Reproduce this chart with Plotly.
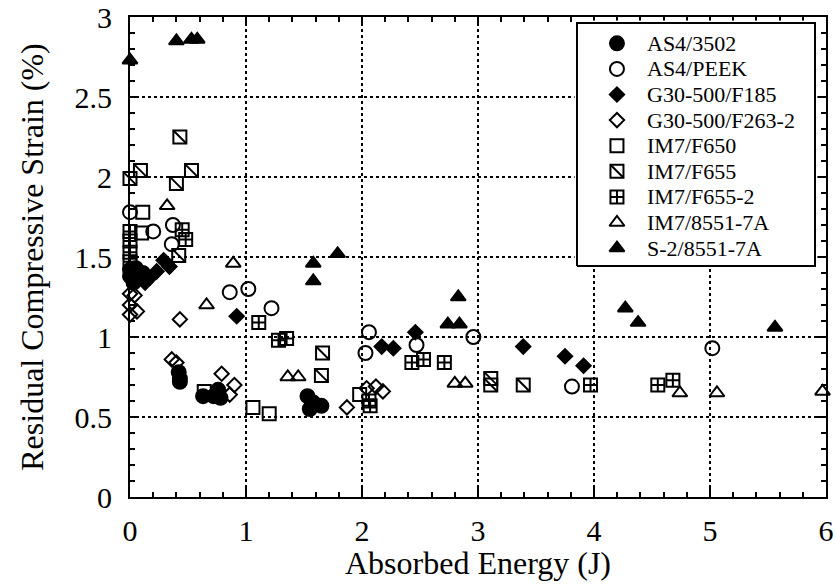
import plotly.graph_objects as go

# ---- data: absorbed energy (J) vs residual compressive strain (%) ----
as4_3502_x = [0, 0, 0.05, 0.08, 0.03, 0.11, 0.42, 0.43, 0.43, 0.63, 0.72, 0.78, 0.76, 1.53, 1.55, 1.65, 1.58]
as4_3502_y = [1.38, 1.42, 1.43, 1.37, 1.34, 1.40, 0.78, 0.74, 0.72, 0.63, 0.63, 0.62, 0.67, 0.63, 0.55, 0.57, 0.59]

as4_peek_x = [0, 0.20, 0.37, 0.36, 0.86, 1.02, 1.22, 2.06, 2.03, 2.47, 2.96, 3.81, 5.02]
as4_peek_y = [1.78, 1.66, 1.70, 1.58, 1.28, 1.30, 1.18, 1.03, 0.90, 0.95, 1.00, 0.69, 0.93]

g30_f185_x = [0.13, 0.17, 0.23, 0.29, 0.34, 0.92, 2.17, 2.27, 2.46, 3.39, 3.75, 3.91]
g30_f185_y = [1.34, 1.37, 1.41, 1.48, 1.44, 1.13, 0.94, 0.93, 1.03, 0.94, 0.88, 0.82]

g30_f263_x = [0, 0.04, 0, 0, 0.06, 0.43, 0.36, 0.40, 0.79, 0.90, 0.86, 1.87, 2.04, 2.12, 2.18]
g30_f263_y = [1.27, 1.26, 1.20, 1.14, 1.16, 1.11, 0.86, 0.84, 0.77, 0.70, 0.64, 0.56, 0.68, 0.69, 0.66]

im7_f650_x = [0.11, 0.10, 0.64, 1.06, 1.20, 1.98]
im7_f650_y = [1.78, 1.65, 0.66, 0.56, 0.52, 0.64]

im7_f655_x = [0, 0.09, 0.43, 0.40, 0.53, 0.42, 1.66, 1.65, 3.11, 3.11, 3.39]
im7_f655_y = [1.99, 2.04, 2.25, 1.96, 2.04, 1.51, 0.90, 0.76, 0.74, 0.70, 0.70]

im7_f655_2_x = [0, 0, 0, 0, 0.45, 0.48, 1.11, 1.28, 1.35, 2.06, 2.07, 2.43, 2.53, 2.71, 3.97, 4.55, 4.68]
im7_f655_2_y = [1.66, 1.60, 1.53, 1.47, 1.67, 1.61, 1.09, 0.98, 0.99, 0.60, 0.57, 0.84, 0.86, 0.84, 0.70, 0.70, 0.73]

im7_8551_x = [0.32, 0.89, 0.66, 1.36, 1.45, 2.80, 2.89, 4.74, 5.06, 5.97]
im7_8551_y = [1.82, 1.46, 1.20, 0.75, 0.75, 0.71, 0.71, 0.65, 0.65, 0.66]

s2_8551_x = [0, 0.40, 0.53, 0.58, 1.58, 1.58, 1.79, 2.83, 2.74, 2.84, 4.27, 4.38, 5.56]
s2_8551_y = [2.73, 2.85, 2.86, 2.86, 1.46, 1.35, 1.52, 1.25, 1.08, 1.08, 1.18, 1.09, 1.06]

# name, x, y, list of (symbol, size) layers drawn on top of each other
series = [
    ("AS4/3502", as4_3502_x, as4_3502_y, [("circle", 14)]),
    ("AS4/PEEK", as4_peek_x, as4_peek_y, [("circle-open", 14)]),
    ("G30-500/F185", g30_f185_x, g30_f185_y, [("diamond", 11)]),
    ("G30-500/F263-2", g30_f263_x, g30_f263_y, [("diamond-open", 11)]),
    ("IM7/F650", im7_f650_x, im7_f650_y, [("square-open", 13)]),
    ("IM7/F655", im7_f655_x, im7_f655_y, [("square-open", 13), ("line-nw", 13)]),
    ("IM7/F655-2", im7_f655_2_x, im7_f655_2_y, [("square-cross-open", 13)]),
    ("IM7/8551-7A", im7_8551_x, im7_8551_y, [("triangle-up-open", 13)]),
    ("S-2/8551-7A", s2_8551_x, s2_8551_y, [("triangle-up", 13)]),
]

FONT = "Liberation Serif"
fig = go.Figure()

for name, xs, ys, layers in series:
    for sym, size in layers:
        fig.add_trace(go.Scatter(
            x=xs, y=ys, mode="markers", name=name, showlegend=False,
            cliponaxis=False,
            marker=dict(symbol=sym, size=size, color="black",
                        line=dict(color="black", width=2)),
        ))

# ---- hand-built legend box in its own overlay subplot ----
pad = 0.01
bx0, bx1 = 0.6422, 0.9842
by0, by1 = 0.481, 0.9875
dx = (bx1 - bx0) * pad
dy = (by1 - by0) * pad

fig.add_trace(go.Scatter(
    x=[0, 1, 1, 0, 0], y=[0, 0, 1, 1, 0], mode="lines", fill="toself",
    fillcolor="white", line=dict(color="black", width=2),
    xaxis="x2", yaxis="y2", showlegend=False, hoverinfo="skip",
))

row_top = 0.9165
row_step = 0.1053
key_x = 0.168
text_x = 0.285
for i, (name, xs, ys, layers) in enumerate(series):
    ry = row_top - i * row_step
    for sym, size in layers:
        fig.add_trace(go.Scatter(
            x=[key_x], y=[ry], mode="markers", xaxis="x2", yaxis="y2",
            showlegend=False, hoverinfo="skip",
            marker=dict(symbol=sym, size=size, color="black",
                        line=dict(color="black", width=2)),
        ))
    fig.add_annotation(x=text_x, y=ry, xref="x2", yref="y2", text=name,
                       showarrow=False, xanchor="left", yanchor="middle",
                       font=dict(family=FONT, size=22, color="black"))

# x-axis title placed as a paper annotation below the tick labels
fig.add_annotation(x=0.5, y=0, xref="paper", yref="paper",
                   text="Absorbed Energy (J)", showarrow=False,
                   xanchor="center", yanchor="middle", yshift=-66,
                   font=dict(family=FONT, size=32, color="black"))

axis_common = dict(
    showline=True, linewidth=2, linecolor="black", mirror="ticks",
    ticks="inside", ticklen=9, tickwidth=2, tickcolor="black",
    showgrid=True, gridcolor="black", gridwidth=2, griddash="dot",
    zeroline=False, automargin=False,
    tickfont=dict(family=FONT, size=30, color="black"),
)

fig.update_layout(
    width=836, height=584,
    margin=dict(l=130, r=10, t=17, b=87),
    paper_bgcolor="white", plot_bgcolor="white",
    showlegend=False,
    xaxis=dict(
        range=[0, 6], tick0=0, dtick=1,
        minor=dict(ticks="inside", dtick=0.2, ticklen=5, tickwidth=1.5,
                   tickcolor="black", showgrid=False),
        ticklabelstandoff=6,
        **axis_common,
    ),
    yaxis=dict(
        range=[0, 3], tick0=0, dtick=0.5,
        minor=dict(ticks="inside", dtick=0.1, ticklen=5, tickwidth=1.5,
                   tickcolor="black", showgrid=False),
        title=dict(text="Residual Compressive Strain (%)", standoff=21,
                   font=dict(family=FONT, size=32, color="black")),
        ticklabelstandoff=10,
        **axis_common,
    ),
    xaxis2=dict(domain=[bx0 - dx, bx1 + dx], range=[-pad, 1 + pad],
                visible=False, anchor="y2", fixedrange=True),
    yaxis2=dict(domain=[by0 - dy, by1 + dy], range=[-pad, 1 + pad],
                visible=False, anchor="x2", fixedrange=True),
)

fig.write_html("out.html")
